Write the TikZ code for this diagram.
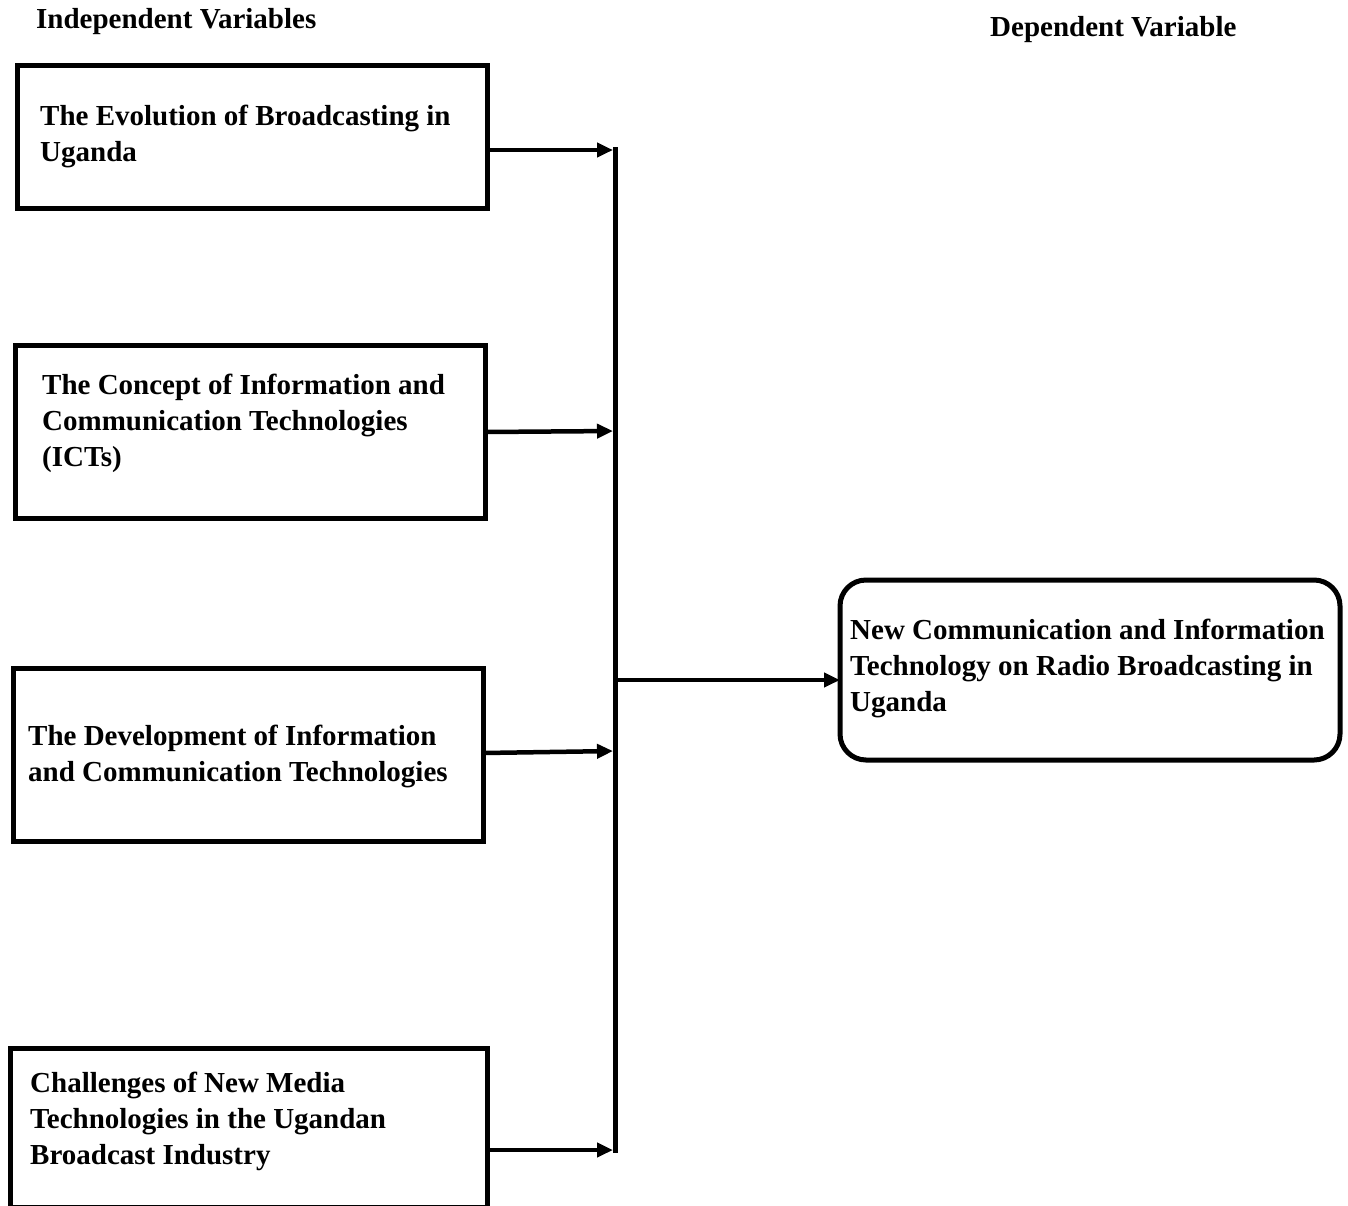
\documentclass[tikz,border=0pt]{standalone}
\usepackage{fontspec}
\setmainfont{Liberation Serif}
\usetikzlibrary{arrows.meta}
\begin{document}
\begin{tikzpicture}[x=1pt,y=-1pt,
  txt/.style={anchor=west,align=left,inner sep=0pt,font=\fontsize{29}{36}\selectfont\bfseries},
  hdr/.style={anchor=west,inner sep=0pt,font=\fontsize{29}{36}\selectfont\bfseries},
  boxline/.style={line width=5pt},
  arr/.style={line width=4.5pt,-{Triangle[length=16pt,width=14pt]},shorten >=2pt},
  bus/.style={line width=5pt}]
\useasboundingbox (0,0) rectangle (1348,1205);
% headers
\node[hdr] (hI) at (36,22) {Independent Variables};
\node[hdr] (hD) at (990,30) {Dependent Variable};
% boxes
\draw[boxline] (17,65) rectangle (487,208);
\node[txt] (t1) at (40,136) {The Evolution of Broadcasting in\\Uganda};
\draw[boxline] (15,345) rectangle (485,518);
\node[txt] (t2) at (42,423) {The Concept of Information and\\Communication Technologies\\(ICTs)};
\draw[boxline] (13,668) rectangle (483,841);
\node[txt] (t3) at (28,756) {The Development of Information\\and Communication Technologies};
\draw[boxline] (10,1048) rectangle (487,1207);
\node[txt] (t4) at (30,1121) {Challenges of New Media\\Technologies in the Ugandan\\Broadcast Industry};
\draw[boxline,rounded corners=26pt] (840,580) rectangle (1340,760);
\node[txt] (t5) at (850,668) {New Communication and Information\\Technology on Radio Broadcasting in\\Uganda};
% anchor coordinates
\coordinate (o1) at (487,150);
\coordinate (o2) at (485,432);
\coordinate (o3) at (483,753);
\coordinate (o4) at (487,1150);
\coordinate (b1) at (615,150);
\coordinate (b2) at (615,431);
\coordinate (b3) at (615,751);
\coordinate (b4) at (615,1150);
\coordinate (bm) at (615,680);
\coordinate (r5) at (840,680);
% bus
\draw[bus] ([yshift=3pt]b1) -- ([yshift=-3pt]b4);
% arrows
\draw[arr] (o1) -- (b1);
\draw[arr] (o2) -- (b2);
\draw[arr] (o3) -- (b3);
\draw[arr] (o4) -- (b4);
\draw[arr,shorten >=0pt] (bm) -- (r5);
\end{tikzpicture}
\end{document}
